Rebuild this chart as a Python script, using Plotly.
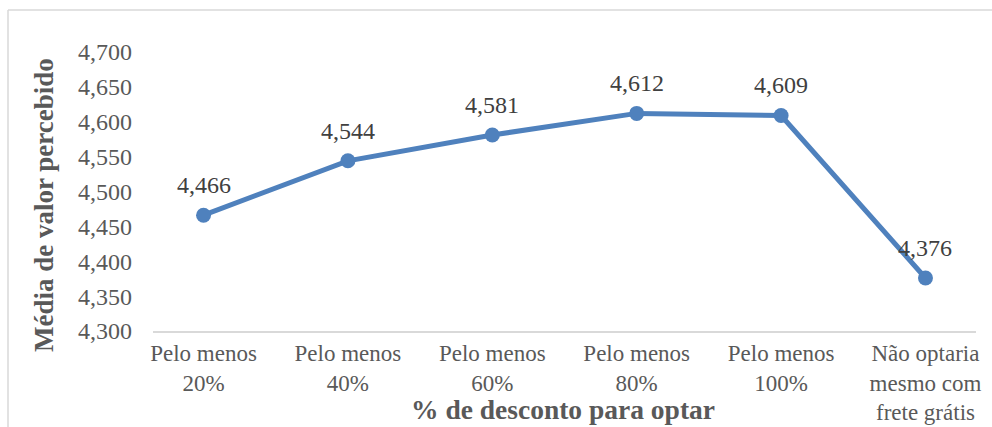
import plotly.graph_objects as go

categories = ["Pelo menos<br>20%", "Pelo menos<br>40%", "Pelo menos<br>60%",
              "Pelo menos<br>80%", "Pelo menos<br>100%", "Não optaria<br>mesmo com<br>frete grátis"]
values = [4.466, 4.544, 4.581, 4.612, 4.609, 4.376]
y_ticks = [4.300, 4.350, 4.400, 4.450, 4.500, 4.550, 4.600, 4.650, 4.700]
y_tick_labels = [f"{v:.3f}".replace(".", ",") for v in y_ticks]
value_labels = [f"{v:.3f}".replace(".", ",") for v in values]

FONT = "Liberation Serif, Times New Roman, serif"
LINE = "#4F81BD"
GREY = "#595959"

fig = go.Figure()
fig.add_trace(go.Scatter(
    x=categories, y=values, mode="lines+markers",
    line=dict(color=LINE, width=5),
    marker=dict(color=LINE, size=15),
    cliponaxis=False, showlegend=False,
))

label_annotations = [
    dict(x=c, y=v, text=t, xref="x", yref="y", yshift=30, showarrow=False,
         xanchor="center", yanchor="middle",
         font=dict(family=FONT, size=24, color="#404040"))
    for c, v, t in zip(categories, values, value_labels)
]

fig.update_layout(
    width=992, height=427,
    margin=dict(l=153, r=16, t=52, b=96, autoexpand=False),
    paper_bgcolor="white", plot_bgcolor="white",
    font=dict(family=FONT, size=24, color=GREY),
    xaxis=dict(
        showgrid=False, showline=True, linecolor="#D9D9D9", linewidth=2,
        ticks="", tickfont=dict(family=FONT, size=23, color=GREY),
        automargin=False, fixedrange=True,
    ),
    yaxis=dict(
        range=[4.3, 4.7], showgrid=False, zeroline=False, showline=False,
        tickvals=y_ticks, ticktext=y_tick_labels, ticks="",
        ticklabelstandoff=20, automargin=False,
        tickfont=dict(family=FONT, size=24, color=GREY),
    ),
    annotations=label_annotations + [
        dict(text="<b>Média de valor percebido</b>", textangle=-90,
             xref="paper", yref="paper",
             x=(44 - 153) / 823, y=(331 - 205) / 279,
             xanchor="center", yanchor="middle", showarrow=False,
             font=dict(family=FONT, size=27, color=GREY)),
        dict(text="<b>% de desconto para optar</b>",
             xref="paper", yref="paper",
             x=(563 - 153) / 823, y=(331 - 410) / 279,
             xanchor="center", yanchor="middle", showarrow=False,
             font=dict(family=FONT, size=27.5, color=GREY)),
    ],
    shapes=[
        dict(type="line", xref="paper", yref="paper",
             x0=(8 - 153) / 823, x1=(1000 - 153) / 823,
             y0=(331 - 10) / 279, y1=(331 - 10) / 279,
             line=dict(color="#D9D9D9", width=1.5)),
        dict(type="line", xref="paper", yref="paper",
             x0=(8 - 153) / 823, x1=(8 - 153) / 823,
             y0=(331 - 10) / 279, y1=(331 - 440) / 279,
             line=dict(color="#D9D9D9", width=1.5)),
    ],
)

fig.write_html("out.html")
